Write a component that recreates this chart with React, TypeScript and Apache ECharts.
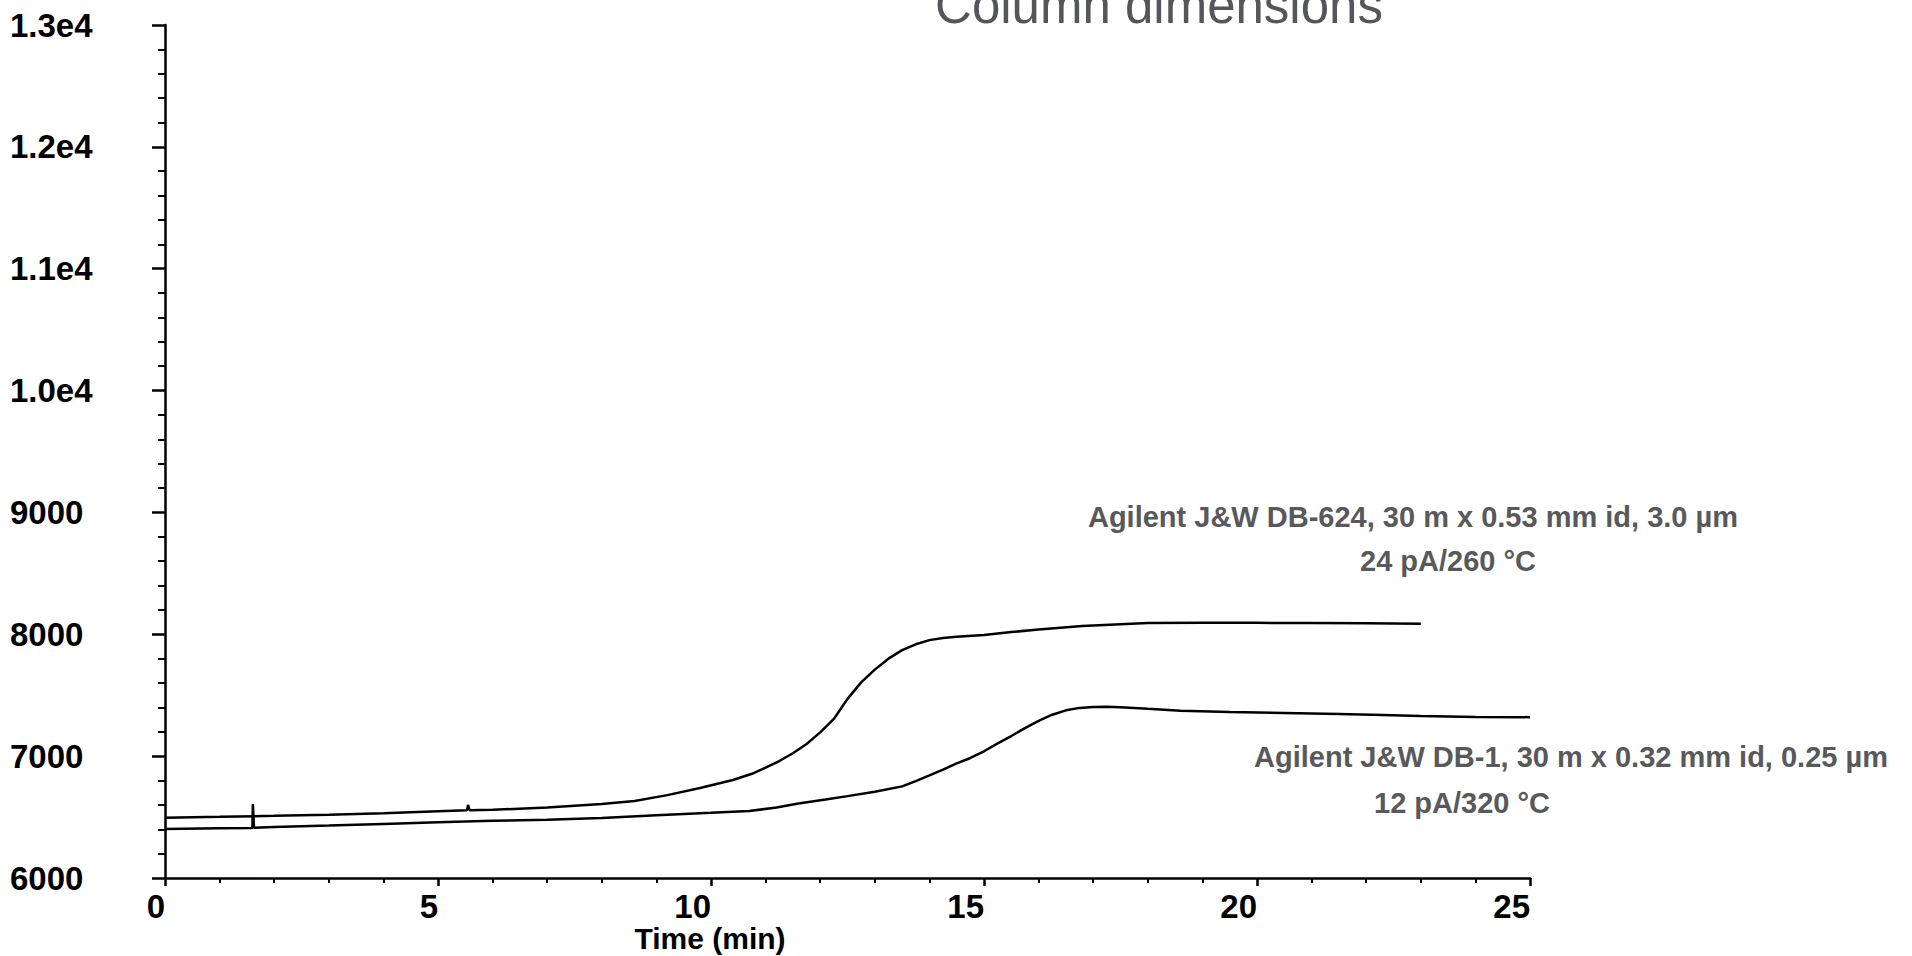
import React, { useEffect, useRef } from "react";
import * as echarts from "echarts";

const titleText = "Column dimensions";
const xAxisName = "Time (min)";
const xTicks = { min: 0, max: 25, interval: 5 };
const yTicks = { min: 6000, max: 13000, interval: 1000 };

// DB-624 trace: [time (min), signal]
const db624 = [
  [0, 6495], [1, 6502], [2, 6510], [3, 6520], [4, 6532], [5, 6548],
  [5.53, 6555], [5.55, 6600], [5.58, 6556], [6, 6560], [7, 6578],
  [8, 6607], [8.6, 6632], [9.2, 6680], [9.8, 6739], [10.4, 6804],
  [10.75, 6855], [11.0, 6905], [11.25, 6960], [11.5, 7024], [11.75, 7100],
  [12.0, 7195], [12.25, 7305], [12.5, 7470], [12.75, 7605], [13.0, 7710],
  [13.25, 7800], [13.5, 7870], [13.75, 7918], [14.0, 7952], [14.25, 7970],
  [14.5, 7980], [15.0, 7995], [15.5, 8018], [16.0, 8040], [16.8, 8068],
  [17.5, 8082], [18.0, 8092], [19.0, 8094], [20.0, 8094], [21.0, 8092],
  [22.0, 8090], [23.0, 8086],
];

// DB-1 trace: [time (min), signal]
const db1 = [
  [0, 6402], [1, 6408], [1.6, 6410], [1.61, 6607], [1.63, 6412], [2, 6418],
  [3, 6430], [4, 6444], [5, 6458], [6, 6470], [7, 6478], [8, 6492],
  [9, 6515], [10, 6535], [10.7, 6550], [11.2, 6578], [11.6, 6612],
  [12.1, 6645], [12.5, 6672], [13.0, 6708], [13.5, 6752], [13.75, 6795],
  [14.0, 6842], [14.25, 6890], [14.5, 6940], [14.75, 6985], [15.0, 7040],
  [15.25, 7105], [15.5, 7165], [15.75, 7230], [16.0, 7290], [16.25, 7340],
  [16.5, 7376], [16.75, 7396], [17.0, 7404], [17.25, 7405], [17.5, 7402],
  [18.0, 7388], [18.6, 7372], [19.5, 7362], [20.5, 7354], [21.5, 7345],
  [22.3, 7338], [23.0, 7330], [24.0, 7322], [25.0, 7320],
];

const label624 = ["Agilent J&W DB-624, 30 m x 0.53 mm id, 3.0 µm", "24 pA/260 °C"];
const label1 = ["Agilent J&W DB-1, 30 m x 0.32 mm id, 0.25 µm", "12 pA/320 °C"];

const FONT = '"Liberation Sans", Arial, Helvetica, sans-serif';
const GRAY = "#58595b";

export default function App() {
  const ref = useRef<HTMLDivElement>(null);
  useEffect(() => {
    document.body.style.margin = "0";
    const chart = echarts.init(ref.current!, null, { renderer: "svg" });
    const ann = (t: string, x: number, y: number) => ({
      type: "text",
      x,
      y,
      silent: true,
      style: {
        text: t,
        fill: GRAY,
        fontFamily: FONT,
        fontWeight: "bold",
        fontSize: 29,
        textAlign: "center",
        textVerticalAlign: "middle",
      },
    });
    const axisLine = { show: true, lineStyle: { color: "#000", width: 2.5 } };
    chart.setOption({
      animation: false,
      backgroundColor: "#ffffff",
      grid: { left: 165, right: 382, top: 25, bottom: 78, containLabel: false },
      xAxis: {
        type: "value",
        min: xTicks.min,
        max: xTicks.max,
        interval: xTicks.interval,
        axisLine,
        axisTick: { show: true, length: 8, lineStyle: { color: "#000", width: 2.5 } },
        minorTick: { show: true, splitNumber: 5, length: 5, lineStyle: { color: "#000", width: 2 } },
        splitLine: { show: false },
        axisLabel: {
          color: "#000",
          fontFamily: FONT,
          fontWeight: "bold",
          fontSize: 33,
          lineHeight: 33,
          align: "right",
          margin: 12,
        },
      },
      yAxis: {
        type: "value",
        min: yTicks.min,
        max: yTicks.max,
        interval: yTicks.interval,
        axisLine,
        axisTick: { show: true, length: 13, lineStyle: { color: "#000", width: 2.5 } },
        minorTick: { show: true, splitNumber: 5, length: 7, lineStyle: { color: "#000", width: 2 } },
        splitLine: { show: false },
        axisLabel: {
          color: "#000",
          fontFamily: FONT,
          fontWeight: "bold",
          fontSize: 33,
          align: "left",
          margin: 155,
          formatter: (v: number) => (v >= 10000 ? (v / 10000).toFixed(1) + "e4" : String(v)),
        },
      },
      series: [
        {
          name: "DB-624",
          type: "line",
          data: db624,
          showSymbol: false,
          lineStyle: { color: "#000", width: 2.5 },
        },
        {
          name: "DB-1",
          type: "line",
          data: db1,
          showSymbol: false,
          lineStyle: { color: "#000", width: 2.5 },
        },
      ],
      graphic: [
        {
          type: "text",
          x: 1159,
          y: 5,
          silent: true,
          style: {
            text: titleText,
            fill: "#54565a",
            fontFamily: FONT,
            fontSize: 51,
            textAlign: "center",
            textVerticalAlign: "middle",
          },
        },
        {
          type: "text",
          x: 710,
          y: 938,
          silent: true,
          style: {
            text: xAxisName,
            fill: "#000",
            fontFamily: FONT,
            fontWeight: "bold",
            fontSize: 30,
            lineHeight: 30,
            textAlign: "center",
            textVerticalAlign: "middle",
          },
        },
        ann(label624[0], 1413, 517),
        ann(label624[1], 1448, 561),
        ann(label1[0], 1571, 757),
        ann(label1[1], 1462, 803),
      ],
    });
    return () => chart.dispose();
  }, []);
  return <div ref={ref} style={{ width: 1912, height: 956 }} />;
}
